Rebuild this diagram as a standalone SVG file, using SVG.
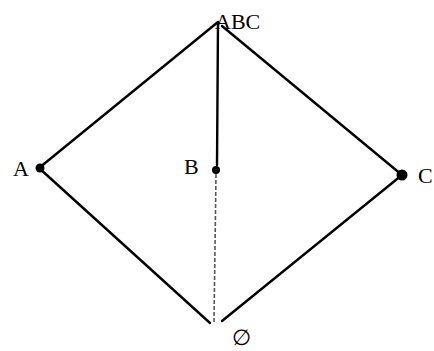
<svg xmlns="http://www.w3.org/2000/svg" width="434" height="351" viewBox="0 0 434 351">
<style>
.e{stroke:#000;stroke-width:2.4;fill:none;stroke-linecap:round}
.f{stroke:#555;stroke-width:1.6;fill:none;stroke-dasharray:4 2}
.t{font-family:"Liberation Serif",serif;font-size:22px;fill:#000}
.d{fill:#000}
</style>
<rect width="434" height="351" fill="#fff"/>
<g id="connectors">
<line class="e" x1="218" y1="22" x2="39" y2="168"/>
<line class="e" x1="222" y1="26" x2="402" y2="175"/>
<line class="e" x1="39" y1="168" x2="210" y2="323"/>
<line class="e" x1="402" y1="175" x2="222" y2="321"/>
<line class="e" x1="218" y1="22" x2="217" y2="165"/>
<line class="f" x1="216" y1="174" x2="214" y2="322"/>
</g>
<g id="ABC"><text class="t" x="215" y="29">ABC</text></g>
<g id="A"><circle class="d" cx="40" cy="168" r="4.5"/><text class="t" x="13" y="176">A</text></g>
<g id="B"><circle class="d" cx="216" cy="170" r="4"/><text class="t" x="184" y="174">B</text></g>
<g id="C"><circle class="d" cx="402" cy="175" r="5.5"/><text class="t" x="418" y="183">C</text></g>
<g id="empty"><text class="t" x="232" y="345" font-size="26">∅</text></g>
</svg>
